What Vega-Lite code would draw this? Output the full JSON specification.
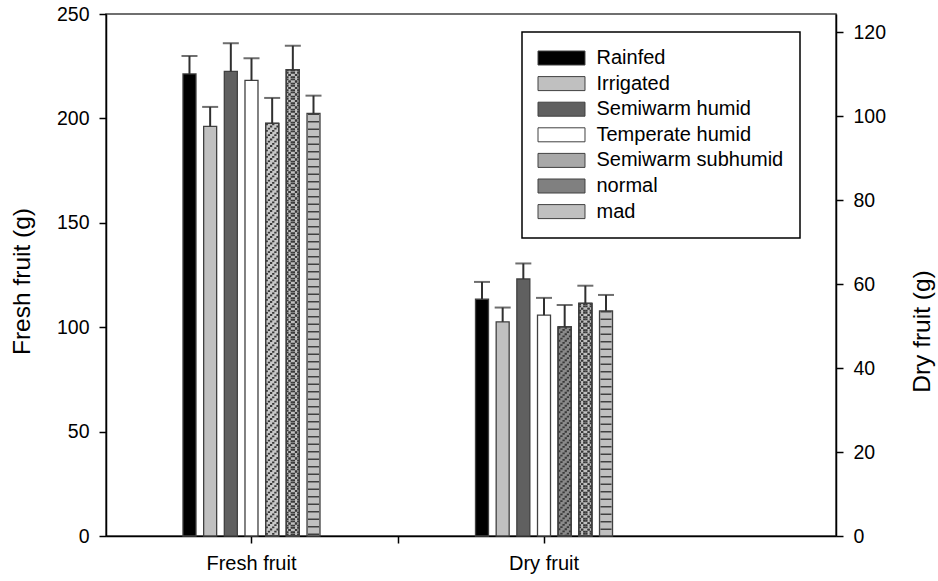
{
  "$schema": "https://vega.github.io/schema/vega-lite/v6.json",
  "width": 730,
  "height": 522,
  "autosize": {"type": "none"},
  "padding": {"left": 106, "top": 14, "right": 102, "bottom": 45},
  "config": {
    "font": "Liberation Sans",
    "view": {"stroke": "#404040", "strokeWidth": 1.5},
    "axis": {
      "grid": false,
      "domainColor": "#000000",
      "domainWidth": 1.5,
      "tickColor": "#000000",
      "tickWidth": 1.5,
      "tickSize": 7,
      "labelFontSize": 19.5,
      "labelColor": "#000000",
      "labelFont": "Liberation Sans",
      "titleFont": "Liberation Sans",
      "titleFontSize": 24.5,
      "titleFontWeight": "normal",
      "titleColor": "#000000"
    },
    "legend": {"strokeWidth": 1.5}
  },
  "data": {
    "values": [
      {"group": "Fresh fruit", "treatment": "Rainfed", "value": 221.3, "upper": 229.9},
      {"group": "Fresh fruit", "treatment": "Irrigated", "value": 196.2, "upper": 205.5},
      {"group": "Fresh fruit", "treatment": "Semiwarm humid", "value": 222.5, "upper": 236.0},
      {"group": "Fresh fruit", "treatment": "Temperate humid", "value": 218.2, "upper": 228.8},
      {"group": "Fresh fruit", "treatment": "Semiwarm subhumid", "value": 197.6, "upper": 209.8},
      {"group": "Fresh fruit", "treatment": "normal", "value": 223.3, "upper": 234.8},
      {"group": "Fresh fruit", "treatment": "mad", "value": 202.4, "upper": 210.9},
      {"group": "Dry fruit", "treatment": "Rainfed", "value": 56.4, "upper": 60.5},
      {"group": "Dry fruit", "treatment": "Irrigated", "value": 51.0, "upper": 54.4},
      {"group": "Dry fruit", "treatment": "Semiwarm humid", "value": 61.2, "upper": 64.9},
      {"group": "Dry fruit", "treatment": "Temperate humid", "value": 52.6, "upper": 56.7},
      {"group": "Dry fruit", "treatment": "Semiwarm subhumid", "value": 49.8, "upper": 55.0},
      {"group": "Dry fruit", "treatment": "normal", "value": 55.4, "upper": 59.6},
      {"group": "Dry fruit", "treatment": "mad", "value": 53.6, "upper": 57.4}
    ]
  },
  "layer": [
    {
      "transform": [{"filter": "datum.group === 'Fresh fruit'"}],
      "encoding": {
        "x": {
          "field": "group", "type": "nominal", "sort": null,
          "scale": {"type": "band", "domain": ["Fresh fruit", "Dry fruit"], "paddingInner": 0.4872, "paddingOuter": 0.4914, "align": 0.2452},
          "axis": {"orient": "bottom", "title": null, "labelAngle": 0, "labelPadding": 10, "labelFontSize": 20}
        },
        "xOffset": {
          "field": "treatment", "type": "nominal", "sort": null,
          "scale": {"domain": ["Rainfed", "Irrigated", "Semiwarm humid", "Temperate humid", "Semiwarm subhumid", "normal", "mad"], "paddingInner": 0.371, "paddingOuter": 0.314}
        },
        "y": {"field": "value", "type": "quantitative", "title": "Fresh fruit (g)",
          "scale": {"domain": [0, 250], "nice": false},
          "axis": {"orient": "left", "values": [0, 50, 100, 150, 200, 250], "labelPadding": 10, "titlePadding": 22, "titleY": 267}}
      },
      "layer": [
        {
          "mark": {"type": "bar", "stroke": "#404040", "strokeWidth": 1.3},
          "encoding": {
            "fill": {
              "field": "treatment", "type": "nominal",
              "scale": {"domain": ["Rainfed", "Irrigated", "Semiwarm humid", "Temperate humid", "Semiwarm subhumid", "normal", "mad"],
                        "range": ["#000000", "#c0c0c0", "#606060", "#ffffff", "#a8a8a8", "#808080", "#c0c0c0"]},
              "legend": {
                "orient": "none", "legendX": 416, "legendY": 18, "title": null,
                "symbolType": "M-3.357,-1H3.357V1H-3.357Z", "symbolSize": 196, "symbolOffset": 13.5,
                "symbolStrokeColor": "#404040", "symbolStrokeWidth": 1,
                "labelFontSize": 20, "labelColor": "#000000", "labelFont": "Liberation Sans",
                "labelLimit": 300,
                "labelOffset": 25, "padding": 16, "rowPadding": 5.6,
                "strokeColor": "#000000"
              }
            }
          }
        },
        {
          "transform": [{"filter": "datum.treatment === 'Semiwarm subhumid'"}],
          "mark": {"type": "bar", "fill": "#c8c8c8", "stroke": "#404040", "strokeWidth": 1.3}
        },
        {
          "transform": [{"filter": "datum.treatment === 'normal'"}],
          "mark": {"type": "bar", "fill": "#c0c0c0", "stroke": "#404040", "strokeWidth": 1.3}
        },
        {
          "transform": [{"filter": "datum.treatment === 'mad'"}],
          "mark": {"type": "rule", "color": "#404040", "strokeWidth": 11, "strokeDash": [1.5, 6]},
          "encoding": {"y2": {"datum": 0}}
        },
        {
          "layer": [
            {"mark": {"type": "rule", "color": "#383838", "strokeWidth": 2.3, "strokeDash": [1.8, 4.7], "strokeDashOffset": 0},
             "encoding": {"xOffset": {"field": "treatment", "type": "nominal", "sort": null, "scale": {"domain": ["Rainfed", "Irrigated", "Semiwarm humid", "Temperate humid", "Semiwarm subhumid", "normal", "mad"], "paddingInner": 0.371, "paddingOuter": 0.314, "align": 0.0833}}}},
            {"mark": {"type": "rule", "color": "#383838", "strokeWidth": 2.3, "strokeDash": [1.8, 4.7], "strokeDashOffset": 2.167},
             "encoding": {"xOffset": {"field": "treatment", "type": "nominal", "sort": null, "scale": {"domain": ["Rainfed", "Irrigated", "Semiwarm humid", "Temperate humid", "Semiwarm subhumid", "normal", "mad"], "paddingInner": 0.371, "paddingOuter": 0.314, "align": 0.25}}}},
            {"mark": {"type": "rule", "color": "#383838", "strokeWidth": 2.3, "strokeDash": [1.8, 4.7], "strokeDashOffset": 4.333},
             "encoding": {"xOffset": {"field": "treatment", "type": "nominal", "sort": null, "scale": {"domain": ["Rainfed", "Irrigated", "Semiwarm humid", "Temperate humid", "Semiwarm subhumid", "normal", "mad"], "paddingInner": 0.371, "paddingOuter": 0.314, "align": 0.4167}}}},
            {"mark": {"type": "rule", "color": "#383838", "strokeWidth": 2.3, "strokeDash": [1.8, 4.7], "strokeDashOffset": 6.5},
             "encoding": {"xOffset": {"field": "treatment", "type": "nominal", "sort": null, "scale": {"domain": ["Rainfed", "Irrigated", "Semiwarm humid", "Temperate humid", "Semiwarm subhumid", "normal", "mad"], "paddingInner": 0.371, "paddingOuter": 0.314, "align": 0.5833}}}},
            {"mark": {"type": "rule", "color": "#383838", "strokeWidth": 2.3, "strokeDash": [1.8, 4.7], "strokeDashOffset": 8.667},
             "encoding": {"xOffset": {"field": "treatment", "type": "nominal", "sort": null, "scale": {"domain": ["Rainfed", "Irrigated", "Semiwarm humid", "Temperate humid", "Semiwarm subhumid", "normal", "mad"], "paddingInner": 0.371, "paddingOuter": 0.314, "align": 0.75}}}},
            {"mark": {"type": "rule", "color": "#383838", "strokeWidth": 2.3, "strokeDash": [1.8, 4.7], "strokeDashOffset": 10.833},
             "encoding": {"xOffset": {"field": "treatment", "type": "nominal", "sort": null, "scale": {"domain": ["Rainfed", "Irrigated", "Semiwarm humid", "Temperate humid", "Semiwarm subhumid", "normal", "mad"], "paddingInner": 0.371, "paddingOuter": 0.314, "align": 0.9167}}}}
          ],
          "transform": [{"filter": "datum.treatment === 'Semiwarm subhumid' || datum.treatment === 'normal'"}],
          "encoding": {"y2": {"datum": 0}},
          "resolve": {"scale": {"xOffset": "independent"}}
        },
        {
          "layer": [
            {"mark": {"type": "rule", "color": "#383838", "strokeWidth": 2.3, "strokeDash": [1.8, 4.7], "strokeDashOffset": 10.833},
             "encoding": {"xOffset": {"field": "treatment", "type": "nominal", "sort": null, "scale": {"domain": ["Rainfed", "Irrigated", "Semiwarm humid", "Temperate humid", "Semiwarm subhumid", "normal", "mad"], "paddingInner": 0.371, "paddingOuter": 0.314, "align": 0.0833}}}},
            {"mark": {"type": "rule", "color": "#383838", "strokeWidth": 2.3, "strokeDash": [1.8, 4.7], "strokeDashOffset": 8.667},
             "encoding": {"xOffset": {"field": "treatment", "type": "nominal", "sort": null, "scale": {"domain": ["Rainfed", "Irrigated", "Semiwarm humid", "Temperate humid", "Semiwarm subhumid", "normal", "mad"], "paddingInner": 0.371, "paddingOuter": 0.314, "align": 0.25}}}},
            {"mark": {"type": "rule", "color": "#383838", "strokeWidth": 2.3, "strokeDash": [1.8, 4.7], "strokeDashOffset": 6.5},
             "encoding": {"xOffset": {"field": "treatment", "type": "nominal", "sort": null, "scale": {"domain": ["Rainfed", "Irrigated", "Semiwarm humid", "Temperate humid", "Semiwarm subhumid", "normal", "mad"], "paddingInner": 0.371, "paddingOuter": 0.314, "align": 0.4167}}}},
            {"mark": {"type": "rule", "color": "#383838", "strokeWidth": 2.3, "strokeDash": [1.8, 4.7], "strokeDashOffset": 4.333},
             "encoding": {"xOffset": {"field": "treatment", "type": "nominal", "sort": null, "scale": {"domain": ["Rainfed", "Irrigated", "Semiwarm humid", "Temperate humid", "Semiwarm subhumid", "normal", "mad"], "paddingInner": 0.371, "paddingOuter": 0.314, "align": 0.5833}}}},
            {"mark": {"type": "rule", "color": "#383838", "strokeWidth": 2.3, "strokeDash": [1.8, 4.7], "strokeDashOffset": 2.167},
             "encoding": {"xOffset": {"field": "treatment", "type": "nominal", "sort": null, "scale": {"domain": ["Rainfed", "Irrigated", "Semiwarm humid", "Temperate humid", "Semiwarm subhumid", "normal", "mad"], "paddingInner": 0.371, "paddingOuter": 0.314, "align": 0.75}}}},
            {"mark": {"type": "rule", "color": "#383838", "strokeWidth": 2.3, "strokeDash": [1.8, 4.7], "strokeDashOffset": 0},
             "encoding": {"xOffset": {"field": "treatment", "type": "nominal", "sort": null, "scale": {"domain": ["Rainfed", "Irrigated", "Semiwarm humid", "Temperate humid", "Semiwarm subhumid", "normal", "mad"], "paddingInner": 0.371, "paddingOuter": 0.314, "align": 0.9167}}}}
          ],
          "transform": [{"filter": "datum.treatment === 'normal'"}],
          "encoding": {"y2": {"datum": 0}},
          "resolve": {"scale": {"xOffset": "independent"}}
        },
        {
          "transform": [{"filter": "datum.treatment === 'Semiwarm subhumid' || datum.treatment === 'normal'"}],
          "mark": {"type": "bar", "fillOpacity": 0, "stroke": "#404040", "strokeWidth": 1.3}
        },
        {
          "mark": {"type": "rule", "color": "#303030", "strokeWidth": 2},
          "encoding": {"y2": {"field": "upper"}}
        },
        {
          "mark": {"type": "tick", "color": "#303030", "thickness": 2, "size": 16},
          "encoding": {
            "y": {"field": "upper", "type": "quantitative", "title": "Fresh fruit (g)",
              "scale": {"domain": [0, 250], "nice": false},
              "axis": {"orient": "left", "values": [0, 50, 100, 150, 200, 250], "labelPadding": 10, "titlePadding": 22, "titleY": 267}}
          }
        }
      ]
    },
    {
      "transform": [{"filter": "datum.group === 'Dry fruit'"}],
      "encoding": {
        "x": {
          "field": "group", "type": "nominal", "sort": null,
          "scale": {"type": "band", "domain": ["Fresh fruit", "Dry fruit"], "paddingInner": 0.4872, "paddingOuter": 0.4914, "align": 0.2452},
          "axis": {"orient": "bottom", "title": null, "labels": false, "domain": false, "values": ["Fresh fruit"], "bandPosition": 1.477}
        },
        "xOffset": {
          "field": "treatment", "type": "nominal", "sort": null,
          "scale": {"domain": ["Rainfed", "Irrigated", "Semiwarm humid", "Temperate humid", "Semiwarm subhumid", "normal", "mad"], "paddingInner": 0.371, "paddingOuter": 0.314}
        },
        "y": {"field": "value", "type": "quantitative", "title": "Dry fruit (g)",
          "scale": {"domain": [0, 124.3], "nice": false},
          "axis": {"orient": "right", "values": [0, 20, 40, 60, 80, 100, 120], "labelPadding": 10, "titlePadding": 49, "titleAngle": 270, "titleY": 317}}
      },
      "layer": [
        {
          "mark": {"type": "bar", "stroke": "#404040", "strokeWidth": 1.3},
          "encoding": {
            "fill": {
              "field": "treatment", "type": "nominal",
              "scale": {"domain": ["Rainfed", "Irrigated", "Semiwarm humid", "Temperate humid", "Semiwarm subhumid", "normal", "mad"],
                        "range": ["#000000", "#c0c0c0", "#606060", "#ffffff", "#a8a8a8", "#808080", "#c0c0c0"]},
              "legend": null
            }
          }
        },
        {
          "transform": [{"filter": "datum.treatment === 'Semiwarm subhumid'"}],
          "mark": {"type": "bar", "fill": "#8a8a8a", "stroke": "#404040", "strokeWidth": 1.3}
        },
        {
          "transform": [{"filter": "datum.treatment === 'normal'"}],
          "mark": {"type": "bar", "fill": "#c0c0c0", "stroke": "#404040", "strokeWidth": 1.3}
        },
        {
          "transform": [{"filter": "datum.treatment === 'mad'"}],
          "mark": {"type": "rule", "color": "#404040", "strokeWidth": 11, "strokeDash": [1.5, 6]},
          "encoding": {"y2": {"datum": 0}}
        },
        {
          "layer": [
            {"mark": {"type": "rule", "color": "#383838", "strokeWidth": 2.3, "strokeDash": [1.8, 4.7], "strokeDashOffset": 0},
             "encoding": {"xOffset": {"field": "treatment", "type": "nominal", "sort": null, "scale": {"domain": ["Rainfed", "Irrigated", "Semiwarm humid", "Temperate humid", "Semiwarm subhumid", "normal", "mad"], "paddingInner": 0.371, "paddingOuter": 0.314, "align": 0.0833}}}},
            {"mark": {"type": "rule", "color": "#383838", "strokeWidth": 2.3, "strokeDash": [1.8, 4.7], "strokeDashOffset": 2.167},
             "encoding": {"xOffset": {"field": "treatment", "type": "nominal", "sort": null, "scale": {"domain": ["Rainfed", "Irrigated", "Semiwarm humid", "Temperate humid", "Semiwarm subhumid", "normal", "mad"], "paddingInner": 0.371, "paddingOuter": 0.314, "align": 0.25}}}},
            {"mark": {"type": "rule", "color": "#383838", "strokeWidth": 2.3, "strokeDash": [1.8, 4.7], "strokeDashOffset": 4.333},
             "encoding": {"xOffset": {"field": "treatment", "type": "nominal", "sort": null, "scale": {"domain": ["Rainfed", "Irrigated", "Semiwarm humid", "Temperate humid", "Semiwarm subhumid", "normal", "mad"], "paddingInner": 0.371, "paddingOuter": 0.314, "align": 0.4167}}}},
            {"mark": {"type": "rule", "color": "#383838", "strokeWidth": 2.3, "strokeDash": [1.8, 4.7], "strokeDashOffset": 6.5},
             "encoding": {"xOffset": {"field": "treatment", "type": "nominal", "sort": null, "scale": {"domain": ["Rainfed", "Irrigated", "Semiwarm humid", "Temperate humid", "Semiwarm subhumid", "normal", "mad"], "paddingInner": 0.371, "paddingOuter": 0.314, "align": 0.5833}}}},
            {"mark": {"type": "rule", "color": "#383838", "strokeWidth": 2.3, "strokeDash": [1.8, 4.7], "strokeDashOffset": 8.667},
             "encoding": {"xOffset": {"field": "treatment", "type": "nominal", "sort": null, "scale": {"domain": ["Rainfed", "Irrigated", "Semiwarm humid", "Temperate humid", "Semiwarm subhumid", "normal", "mad"], "paddingInner": 0.371, "paddingOuter": 0.314, "align": 0.75}}}},
            {"mark": {"type": "rule", "color": "#383838", "strokeWidth": 2.3, "strokeDash": [1.8, 4.7], "strokeDashOffset": 10.833},
             "encoding": {"xOffset": {"field": "treatment", "type": "nominal", "sort": null, "scale": {"domain": ["Rainfed", "Irrigated", "Semiwarm humid", "Temperate humid", "Semiwarm subhumid", "normal", "mad"], "paddingInner": 0.371, "paddingOuter": 0.314, "align": 0.9167}}}}
          ],
          "transform": [{"filter": "datum.treatment === 'Semiwarm subhumid' || datum.treatment === 'normal'"}],
          "encoding": {"y2": {"datum": 0}},
          "resolve": {"scale": {"xOffset": "independent"}}
        },
        {
          "layer": [
            {"mark": {"type": "rule", "color": "#383838", "strokeWidth": 2.3, "strokeDash": [1.8, 4.7], "strokeDashOffset": 10.833},
             "encoding": {"xOffset": {"field": "treatment", "type": "nominal", "sort": null, "scale": {"domain": ["Rainfed", "Irrigated", "Semiwarm humid", "Temperate humid", "Semiwarm subhumid", "normal", "mad"], "paddingInner": 0.371, "paddingOuter": 0.314, "align": 0.0833}}}},
            {"mark": {"type": "rule", "color": "#383838", "strokeWidth": 2.3, "strokeDash": [1.8, 4.7], "strokeDashOffset": 8.667},
             "encoding": {"xOffset": {"field": "treatment", "type": "nominal", "sort": null, "scale": {"domain": ["Rainfed", "Irrigated", "Semiwarm humid", "Temperate humid", "Semiwarm subhumid", "normal", "mad"], "paddingInner": 0.371, "paddingOuter": 0.314, "align": 0.25}}}},
            {"mark": {"type": "rule", "color": "#383838", "strokeWidth": 2.3, "strokeDash": [1.8, 4.7], "strokeDashOffset": 6.5},
             "encoding": {"xOffset": {"field": "treatment", "type": "nominal", "sort": null, "scale": {"domain": ["Rainfed", "Irrigated", "Semiwarm humid", "Temperate humid", "Semiwarm subhumid", "normal", "mad"], "paddingInner": 0.371, "paddingOuter": 0.314, "align": 0.4167}}}},
            {"mark": {"type": "rule", "color": "#383838", "strokeWidth": 2.3, "strokeDash": [1.8, 4.7], "strokeDashOffset": 4.333},
             "encoding": {"xOffset": {"field": "treatment", "type": "nominal", "sort": null, "scale": {"domain": ["Rainfed", "Irrigated", "Semiwarm humid", "Temperate humid", "Semiwarm subhumid", "normal", "mad"], "paddingInner": 0.371, "paddingOuter": 0.314, "align": 0.5833}}}},
            {"mark": {"type": "rule", "color": "#383838", "strokeWidth": 2.3, "strokeDash": [1.8, 4.7], "strokeDashOffset": 2.167},
             "encoding": {"xOffset": {"field": "treatment", "type": "nominal", "sort": null, "scale": {"domain": ["Rainfed", "Irrigated", "Semiwarm humid", "Temperate humid", "Semiwarm subhumid", "normal", "mad"], "paddingInner": 0.371, "paddingOuter": 0.314, "align": 0.75}}}},
            {"mark": {"type": "rule", "color": "#383838", "strokeWidth": 2.3, "strokeDash": [1.8, 4.7], "strokeDashOffset": 0},
             "encoding": {"xOffset": {"field": "treatment", "type": "nominal", "sort": null, "scale": {"domain": ["Rainfed", "Irrigated", "Semiwarm humid", "Temperate humid", "Semiwarm subhumid", "normal", "mad"], "paddingInner": 0.371, "paddingOuter": 0.314, "align": 0.9167}}}}
          ],
          "transform": [{"filter": "datum.treatment === 'normal'"}],
          "encoding": {"y2": {"datum": 0}},
          "resolve": {"scale": {"xOffset": "independent"}}
        },
        {
          "transform": [{"filter": "datum.treatment === 'Semiwarm subhumid' || datum.treatment === 'normal'"}],
          "mark": {"type": "bar", "fillOpacity": 0, "stroke": "#404040", "strokeWidth": 1.3}
        },
        {
          "mark": {"type": "rule", "color": "#303030", "strokeWidth": 2},
          "encoding": {"y2": {"field": "upper"}}
        },
        {
          "mark": {"type": "tick", "color": "#303030", "thickness": 2, "size": 16},
          "encoding": {
            "y": {"field": "upper", "type": "quantitative", "title": "Dry fruit (g)",
              "scale": {"domain": [0, 124.3], "nice": false},
              "axis": {"orient": "right", "values": [0, 20, 40, 60, 80, 100, 120], "labelPadding": 10, "titlePadding": 49, "titleAngle": 270, "titleY": 317}}
          }
        }
      ]
    }
  ],
  "resolve": {"scale": {"y": "independent"}, "axis": {"x": "independent", "y": "independent"}}
}
